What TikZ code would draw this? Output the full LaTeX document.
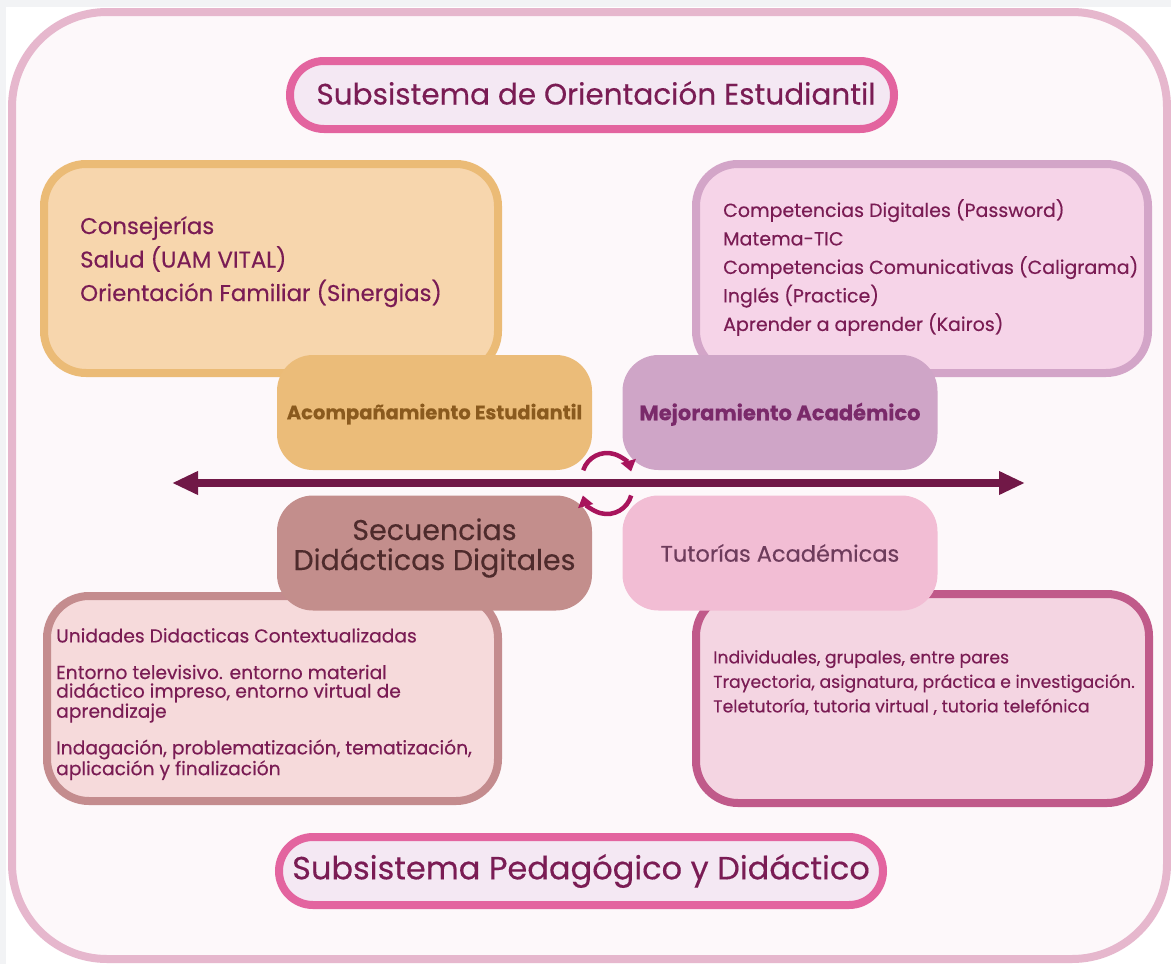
\documentclass[tikz,border=0pt]{standalone}
\usepackage{fontspec}
\setmainfont{Poppins}[FakeBold=0.35]
\usetikzlibrary{arrows.meta,calc}
\definecolor{outbg}{HTML}{F2F3F5}
\definecolor{framec}{HTML}{E6B7CD}
\definecolor{inbg}{HTML}{FDF8FA}
\definecolor{pillborder}{HTML}{E3649F}
\definecolor{pillfill}{HTML}{F4E8F3}
\definecolor{txt}{HTML}{7A1C54}
\definecolor{tlfill}{HTML}{F7D6AD}
\definecolor{tlborder}{HTML}{EBBB76}
\definecolor{trfill}{HTML}{F6D4E8}
\definecolor{trborder}{HTML}{D3A5C8}
\definecolor{blfill}{HTML}{F6DADB}
\definecolor{blborder}{HTML}{C48C8E}
\definecolor{brfill}{HTML}{F4D5E2}
\definecolor{brborder}{HTML}{C05A8A}
\definecolor{acofill}{HTML}{EBBC79}
\definecolor{acotxt}{HTML}{8A5A1E}
\definecolor{mejfill}{HTML}{CFA5C7}
\definecolor{mejtxt}{HTML}{7A2A6A}
\definecolor{secfill}{HTML}{C38E8C}
\definecolor{sectxt}{HTML}{4E2B2C}
\definecolor{tutfill}{HTML}{F2BDD4}
\definecolor{tuttxt}{HTML}{6E3C5C}
\definecolor{axisc}{HTML}{711847}
\definecolor{cyclec}{HTML}{A8145C}
\begin{document}
\begin{tikzpicture}[x=1pt,y=-1pt,
  pill/.style={draw=pillborder,fill=pillfill,line width=8pt,rounded corners=34pt,
    minimum width=604pt,minimum height=68pt,inner sep=0pt,text=txt},
  bigbox/.style={line width=8pt,rounded corners=42pt,inner sep=0pt},
  midnode/.style={rounded corners=36pt,minimum width=315pt,minimum height=115pt,inner sep=0pt,align=center},
  boxtext/.style={anchor=north west,inner sep=0pt,align=left,text=txt},
  axis/.style={line width=8pt,draw=axisc,-{Triangle[length=26pt,width=22pt]}},
  cycle/.style={line width=4.5pt,draw=cyclec,-{Triangle[length=11pt,width=15pt]}}]
\useasboundingbox (0,0) rectangle (1171,964);
\fill[outbg] (0,0) rectangle (1171,964);
\fill[white] (6,7) rectangle (1171,964);
\draw[framec,fill=inbg,line width=8pt,rounded corners=95pt] (12,12) rectangle (1167,959);
% titles
\node[pill,font=\fontsize{29.5}{36}\selectfont,
  label={[font=\fontsize{29.5}{36}\selectfont,text=txt,xshift=4pt,yshift=2pt]center:Subsistema de Orientación Estudiantil}] (t1) at (592,95) {};
\node[pill,font=\fontsize{32}{38}\selectfont] (t2) at (581,871) {Subsistema Pedagógico y Didáctico};
% big boxes
\node[bigbox,draw=tlborder,fill=tlfill,minimum width=454pt,minimum height=209pt] (tl) at (271,268.5) {};
\node[bigbox,draw=trborder,fill=trfill,minimum width=452pt,minimum height=209pt] (tr) at (922,268.5) {};
\node[bigbox,draw=blborder,fill=blfill,minimum width=451pt,minimum height=205pt] (bl) at (272.5,698.5) {};
\node[bigbox,draw=brborder,fill=brfill,minimum width=453pt,minimum height=209pt] (br) at (922.5,698.5) {};
% texts
\node[boxtext,font=\fontsize{22.8}{33.5}\selectfont] (tlt) at (80,216) {Consejerías\\Salud (UAM VITAL)\\Orientación Familiar (Sinergias)};
\node[boxtext,font=\fontsize{19}{28.5}\selectfont] (trt) at (723,199) {Competencias Digitales (Password)\\Matema-TIC\\Competencias Comunicativas (Caligrama)\\Inglés (Practice)\\Aprender a aprender (Kairos)};
\node[boxtext,font=\fontsize{18.7}{18.6}\selectfont] (blt) at (56,628) {Unidades Didacticas Contextualizadas\\[18pt]Entorno televisivo. entorno material\\didáctico impreso, entorno virtual de\\aprendizaje\\[16pt]Indagación, problematización, tematización,\\aplicación y finalización};
\node[boxtext,font=\fontsize{17.3}{24.5}\selectfont] (brt) at (713,650) {Individuales, grupales, entre pares\\Trayectoria, asignatura, práctica e investigación.\\Teletutoría, tutoria virtual , tutoria telefónica};
% middle nodes
\node[midnode,fill=acofill,text=acotxt,font=\bfseries\fontsize{19.5}{22}\selectfont,text depth=2pt] (aco) at (434.5,412.5) {Acompañamiento Estudiantil};
\node[midnode,fill=mejfill,text=mejtxt,font=\bfseries\fontsize{21}{22}\selectfont,text depth=2pt] (mej) at (780,412.5) {Mejoramiento Académico};
\node[midnode,fill=secfill,
  label={[font=\fontsize{28.5}{30}\selectfont,text=sectxt,align=center,yshift=5pt]center:{Secuencias\\Didácticas Digitales}}] (sec) at (434.5,553) {};
\node[midnode,fill=tutfill,text=tuttxt,font=\fontsize{22.5}{24}\selectfont] (tut) at (780,553) {Tutorías Académicas};
% axis
\coordinate (axc) at (600,483);
\coordinate (axl) at (172,483);
\coordinate (axr) at (1025,483);
\draw[axis] (axc) -- (axl);
\draw[axis] (axc) -- (axr);
% cycle arrows
\coordinate (cyc) at (607,478);
\coordinate (cyd) at (607,489);
\draw[cycle] ($(cyc)+(198:25)$) arc[start angle=198,end angle=345,radius=25];
\draw[cycle] ($(cyd)+(15:25)$) arc[start angle=15,end angle=165,radius=25];
\end{tikzpicture}
\end{document}
